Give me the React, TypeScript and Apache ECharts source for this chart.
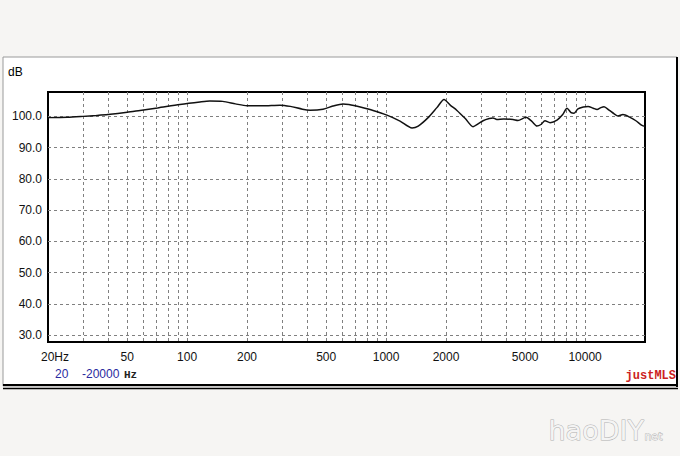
import React, { useEffect, useRef } from "react";
import * as echarts from "echarts";

const freqs = [
  20, 25, 30, 35, 40, 50, 58, 71, 92, 116, 130, 151, 175, 200, 240, 293, 330, 380, 415, 482,
  540, 607, 650, 750, 860, 1010, 1175, 1350, 1450, 1626, 1800, 1955, 2100, 2270, 2500, 2734,
  2900, 3070, 3300, 3445, 3600, 3900, 4345, 4600, 5046, 5400, 5730, 6000, 6285, 6670, 7225,
  7700, 8115, 8500, 8800, 9210, 9800, 10350, 11000, 11480, 12000, 12450, 13200, 14000, 14620,
  15500, 16820, 18000, 19320, 20000,
];
const levels = [
  99.6, 99.7, 100.0, 100.3, 100.6, 101.3, 101.9, 102.7, 103.8, 104.6, 104.9, 104.8, 104.0, 103.4,
  103.4, 103.6, 103.2, 102.3, 102.0, 102.3, 103.3, 104.0, 103.8, 102.9, 101.9, 100.4, 98.5, 96.3,
  96.9, 99.6, 102.8, 105.4, 103.6, 101.9, 99.3, 96.7, 97.6, 98.6, 99.3, 99.5, 99.0, 99.2, 99.0,
  98.7, 99.7, 98.4, 96.9, 97.4, 98.6, 98.0, 98.8, 100.5, 102.6, 101.2, 101.0, 102.4, 103.0, 103.2,
  102.6, 102.2, 102.8, 103.1, 102.0, 100.8, 100.1, 100.6, 99.7, 98.6, 97.1, 96.8,
];
const xLabelValues = [20, 50, 100, 200, 500, 1000, 2000, 5000, 10000];
const xGridValues = [
  30, 40, 50, 60, 70, 80, 90, 100, 200, 300, 400, 500, 600, 700, 800, 900, 1000, 2000, 3000,
  4000, 5000, 6000, 7000, 8000, 9000, 10000,
];
const yTickValues = [30, 40, 50, 60, 70, 80, 90, 100];

export default function App() {
  const ref = useRef<HTMLDivElement>(null);
  useEffect(() => {
    if (!ref.current) return;
    const chart = echarts.init(ref.current, null, { renderer: "svg" });
    const font = "Liberation Sans, Arial, sans-serif";
    chart.setOption({
      animation: false,
      backgroundColor: "#f6f5f3",
      grid: {
        left: 48,
        right: 35,
        top: 92,
        bottom: 114,
        show: true,
        borderColor: "#000",
        borderWidth: 2,
      },
      graphic: [
        {
          type: "rect",
          z: -10,
          silent: true,
          shape: { x: 3, y: 57, width: 674, height: 329 },
          style: { fill: "#ffffff", stroke: "#9a9a9a", lineWidth: 1 },
        },
        {
          type: "line",
          z: -5,
          shape: { x1: 677, y1: 57, x2: 677, y2: 387 },
          style: { stroke: "#000", lineWidth: 2 },
        },
        {
          type: "line",
          z: -5,
          shape: { x1: 3, y1: 385, x2: 678, y2: 385 },
          style: { stroke: "#000", lineWidth: 2 },
        },
        {
          type: "line",
          z: -5,
          shape: { x1: 3, y1: 388.5, x2: 678, y2: 388.5 },
          style: { stroke: "#000", lineWidth: 1.5 },
        },
        {
          type: "text",
          left: 8,
          top: 66,
          style: { text: "dB", fontSize: 12, fontFamily: font, fill: "#000" },
        },
        {
          type: "text",
          left: 55,
          top: 368,
          style: { text: "20", fontSize: 12, fontFamily: font, fill: "#2a2aa0" },
        },
        {
          type: "text",
          left: 82,
          top: 368,
          style: { text: "-20000", fontSize: 12, fontFamily: font, fill: "#2a2aa0" },
        },
        {
          type: "text",
          left: 124,
          top: 369,
          style: {
            text: "Hz",
            fontSize: 11,
            fontWeight: "bold",
            fontFamily: "Liberation Mono, monospace",
            fill: "#222",
          },
        },
        {
          type: "text",
          right: 4,
          top: 370,
          style: {
            text: "justMLS",
            fontSize: 12,
            fontWeight: "bold",
            fontFamily: "Liberation Mono, Courier New, monospace",
            fill: "#cc2222",
          },
        },
        {
          type: "text",
          left: 548,
          top: 416,
          style: {
            text: "haoDIY",
            fontSize: 27,
            fontFamily: "DejaVu Sans, sans-serif",
            fill: "#f4f4f4",
            stroke: "#b0b0b0",
            lineWidth: 1,
          },
        },
        {
          type: "text",
          left: 644,
          top: 431,
          style: {
            text: "net",
            fontSize: 11,
            fontFamily: "DejaVu Sans, sans-serif",
            fill: "#f4f4f4",
            stroke: "#b0b0b0",
            lineWidth: 0.8,
          },
        },
      ],
      xAxis: {
        type: "log",
        logBase: 10,
        min: 20,
        max: 20000,
        axisLine: { show: false },
        axisTick: { show: false, customValues: xGridValues },
        splitLine: {
          show: true,
          lineStyle: { color: "#808080", type: [3, 3], width: 1 },
        },
        axisLabel: {
          customValues: xLabelValues,
          formatter: (v: number) => (v === 20 ? "{first|20Hz}" : String(v)),
          rich: {
            first: {
              fontSize: 12,
              fontFamily: font,
              color: "#111",
              padding: [0, 0, 0, 14],
            },
          },
          color: "#111",
          fontSize: 12,
          fontFamily: font,
          margin: 9,
        },
      },
      yAxis: {
        type: "value",
        min: 27.8,
        max: 107.8,
        axisLine: { show: false },
        axisTick: { show: false, customValues: yTickValues },
        splitLine: {
          show: true,
          lineStyle: { color: "#808080", type: [3, 3], width: 1 },
        },
        axisLabel: {
          customValues: yTickValues,
          formatter: (v: number) => v.toFixed(1),
          color: "#111",
          fontSize: 12,
          fontFamily: font,
          margin: 6,
        },
      },
      series: [
        {
          type: "line",
          data: freqs.map((f, i) => [f, levels[i]]),
          showSymbol: false,
          smooth: 0.25,
          lineStyle: { color: "#111", width: 1.5 },
          z: 5,
        },
      ],
    });
    return () => chart.dispose();
  }, []);
  return (
    <div
      ref={ref}
      style={{ position: "absolute", left: 0, top: 0, width: 680, height: 456 }}
    />
  );
}
